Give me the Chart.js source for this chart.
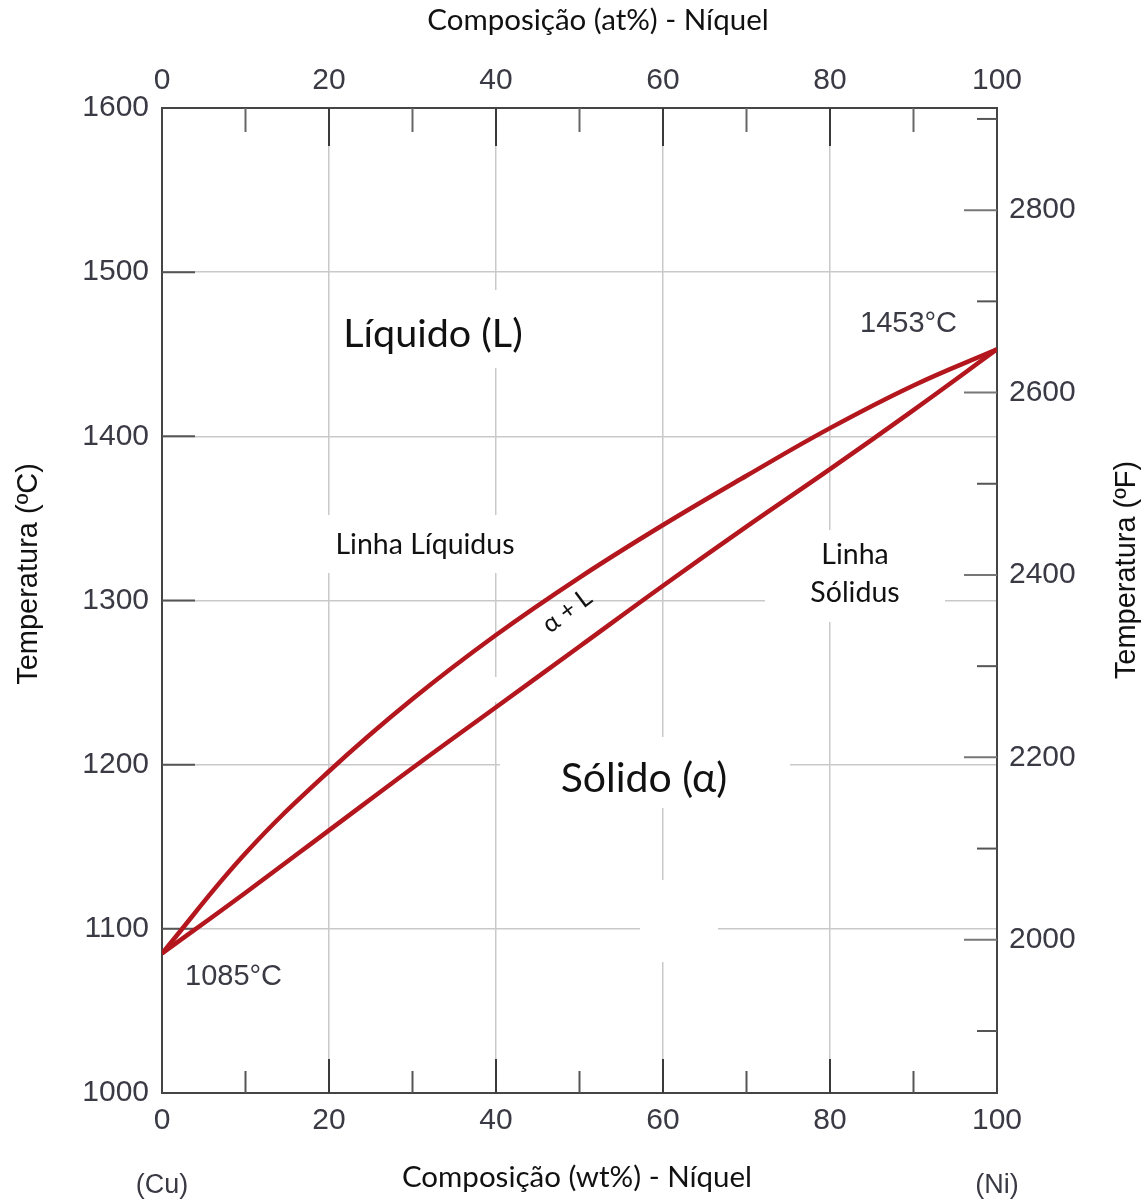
<!DOCTYPE html>
<html>
<head>
<meta charset="utf-8">
<script src="https://cdn.jsdelivr.net/npm/chart.js@4.4.1/dist/chart.umd.min.js"></script>
<style>
  html, body { margin: 0; padding: 0; background: #ffffff; }
  #wrap { width: 1148px; height: 1202px; position: relative; }
</style>
</head>
<body>
<div id="wrap"><canvas id="c" width="1148" height="1202"></canvas></div>
<script>
// ---- data ----
const WT_NI      = [0, 10, 20, 30, 40, 50, 60, 70, 80, 90, 100];          // composition, wt% Ni
const LIQUIDUS_C = [1085, 1146, 1196, 1240, 1279, 1314, 1346, 1376, 1405, 1431, 1453];
const SOLIDUS_C  = [1085, 1122, 1160, 1198, 1235, 1272, 1309, 1345, 1380, 1416, 1453];
const X_TICKS    = [0, 20, 40, 60, 80, 100];
const X_MINOR    = [10, 30, 50, 70, 90];
const C_TICKS    = [1000, 1100, 1200, 1300, 1400, 1500, 1600];
const F_TICKS    = [2000, 2200, 2400, 2600, 2800];
const F_MINOR    = [1900, 2100, 2300, 2500, 2700, 2900];
const C_MIN = 1000, C_MAX = 1600;
const toF = c => c * 9 / 5 + 32;

const RED = '#b3161d';
const GRID = '#c9c9cc';
const AXIS = '#454545';
const TICKTXT = '#3a3a44';
const SANS = '"Liberation Sans", Arial, sans-serif';
const CAL = 'Lato, "Open Sans", sans-serif';

const pts = ys => WT_NI.map((x, i) => ({ x: x, y: ys[i] }));
const plain = v => String(v);

// white patches behind labels (as in the reference)
const whiteBoxes = [
  [330, 290, 212, 78],
  [322, 515, 208, 58],
  [450, 677, 85, 25],
  [500, 737, 290, 71],
  [765, 530, 180, 92],
  [640, 880, 78, 82]
];

const decor = {
  id: 'decor',
  beforeDatasetsDraw(chart) {
    const ctx = chart.ctx;
    ctx.save();
    ctx.fillStyle = '#ffffff';
    whiteBoxes.forEach(b => ctx.fillRect(b[0], b[1], b[2], b[3]));
    // inward tick marks
    const a = chart.chartArea;
    const sx = chart.scales.x, sy = chart.scales.y, sf = chart.scales.y2;
    ctx.lineWidth = 2;
    const line = (x1, y1, x2, y2, col) => { ctx.strokeStyle = col; ctx.beginPath(); ctx.moveTo(x1, y1); ctx.lineTo(x2, y2); ctx.stroke(); };
    X_TICKS.slice(1, -1).forEach(v => {
      const px = sx.getPixelForValue(v);
      line(px, a.top, px, a.top + 38, '#3a3a3a');
      line(px, a.bottom, px, a.bottom - 34, '#3a3a3a');
    });
    X_MINOR.forEach(v => {
      const px = sx.getPixelForValue(v);
      line(px, a.top, px, a.top + 24, '#666');
      line(px, a.bottom, px, a.bottom - 22, '#555');
    });
    C_TICKS.slice(1, -1).forEach(v => {
      const py = sy.getPixelForValue(v);
      line(a.left, py, a.left + 33, py, '#555');
    });
    F_TICKS.forEach(v => {
      const py = sf.getPixelForValue(v);
      line(a.right, py, a.right - 33, py, '#777');
    });
    F_MINOR.forEach(v => {
      const py = sf.getPixelForValue(v);
      line(a.right, py, a.right - 20, py, '#555');
    });
    ctx.restore();
  },
  afterDraw(chart) {
    const ctx = chart.ctx;
    const txt = (s, x, y, font, color, align, rot) => {
      ctx.save();
      ctx.translate(x, y);
      if (rot) ctx.rotate(rot);
      ctx.font = font;
      ctx.fillStyle = color;
      ctx.textAlign = align || 'center';
      ctx.textBaseline = 'middle';
      ctx.fillText(s, 0, 0);
      ctx.restore();
    };
    // axis titles
    txt('Composição (at%) - Níquel', 598, 20, '29.5px ' + CAL, '#111');
    txt('Composição (wt%) - Níquel', 577, 1177, '29.5px ' + CAL, '#111');
    txt('Temperatura (ºC)', 29, 574, '29px ' + SANS, '#111', 'center', -Math.PI / 2);
    txt('Temperatura (ºF)', 1127, 570, '29px ' + SANS, '#111', 'center', -Math.PI / 2);
    txt('(Cu)', 162, 1186, '27px ' + SANS, '#3a3a44');
    txt('(Ni)', 997, 1186, '27px ' + SANS, '#3a3a44');
    // region labels
    txt('Líquido (L)', 433, 334, '39.5px ' + CAL, '#111');
    txt('Linha Líquidus', 425, 545, '28.5px ' + CAL, '#111');
    txt('Linha', 855, 555, '28.5px ' + CAL, '#111');
    txt('Sólidus', 855, 593, '28.5px ' + CAL, '#111');
    txt('Sólido (α)', 644, 779, '41px ' + CAL, '#111');
    txt('α + L', 567, 611, '25px ' + CAL, '#111', 'center', -37 * Math.PI / 180);
    txt('1085°C', 185, 977, '29px ' + SANS, '#3a3a44', 'left');
    txt('1453°C', 860, 324, '29px ' + SANS, '#3a3a44', 'left');
  }
};

new Chart(document.getElementById('c'), {
  type: 'line',
  data: {
    datasets: [
      { label: 'Linha Líquidus', data: pts(LIQUIDUS_C), borderColor: RED, borderWidth: 4.5,
        pointRadius: 0, tension: 0.4, fill: false, xAxisID: 'x', yAxisID: 'y' },
      { label: 'Linha Sólidus', data: pts(SOLIDUS_C), borderColor: RED, borderWidth: 4.5,
        pointRadius: 0, tension: 0.4, fill: false, xAxisID: 'x', yAxisID: 'y' }
    ]
  },
  options: {
    responsive: false,
    animation: false,
    layout: { padding: 0 },
    plugins: { legend: { display: false }, tooltip: { enabled: false } },
    scales: {
      x: {
        type: 'linear', position: 'bottom', min: 0, max: 100,
        afterBuildTicks: s => { s.ticks = X_TICKS.map(v => ({ value: v })); },
        afterFit: s => { s.height = 109; },
        grid: { color: GRID, lineWidth: 1.5, drawTicks: false },
        border: { display: true, color: AXIS, width: 2 },
        ticks: { padding: 10, color: TICKTXT, font: { family: SANS, size: 30 }, maxRotation: 0, callback: plain }
      },
      x2: {
        type: 'linear', position: 'top', min: 0, max: 100,
        afterBuildTicks: s => { s.ticks = X_TICKS.map(v => ({ value: v })); },
        afterFit: s => { s.height = 108; },
        grid: { display: false, drawTicks: false },
        border: { display: true, color: AXIS, width: 2 },
        ticks: { padding: 9, color: TICKTXT, font: { family: SANS, size: 30 }, maxRotation: 0, callback: plain }
      },
      y: {
        type: 'linear', position: 'left', min: C_MIN, max: C_MAX,
        afterBuildTicks: s => { s.ticks = C_TICKS.map(v => ({ value: v })); },
        afterFit: s => { s.width = 162; },
        grid: { color: GRID, lineWidth: 1.5, drawTicks: false },
        border: { display: true, color: AXIS, width: 2 },
        ticks: { padding: 13, color: TICKTXT, font: { family: SANS, size: 30 }, callback: plain }
      },
      y2: {
        type: 'linear', position: 'right', min: toF(C_MIN), max: toF(C_MAX),
        afterBuildTicks: s => { s.ticks = F_TICKS.map(v => ({ value: v })); },
        afterFit: s => { s.width = 151; },
        grid: { display: false, drawTicks: false },
        border: { display: true, color: AXIS, width: 2 },
        ticks: { padding: 12, color: TICKTXT, font: { family: SANS, size: 30 }, callback: plain }
      }
    }
  },
  plugins: [decor]
});
</script>
</body>
</html>
